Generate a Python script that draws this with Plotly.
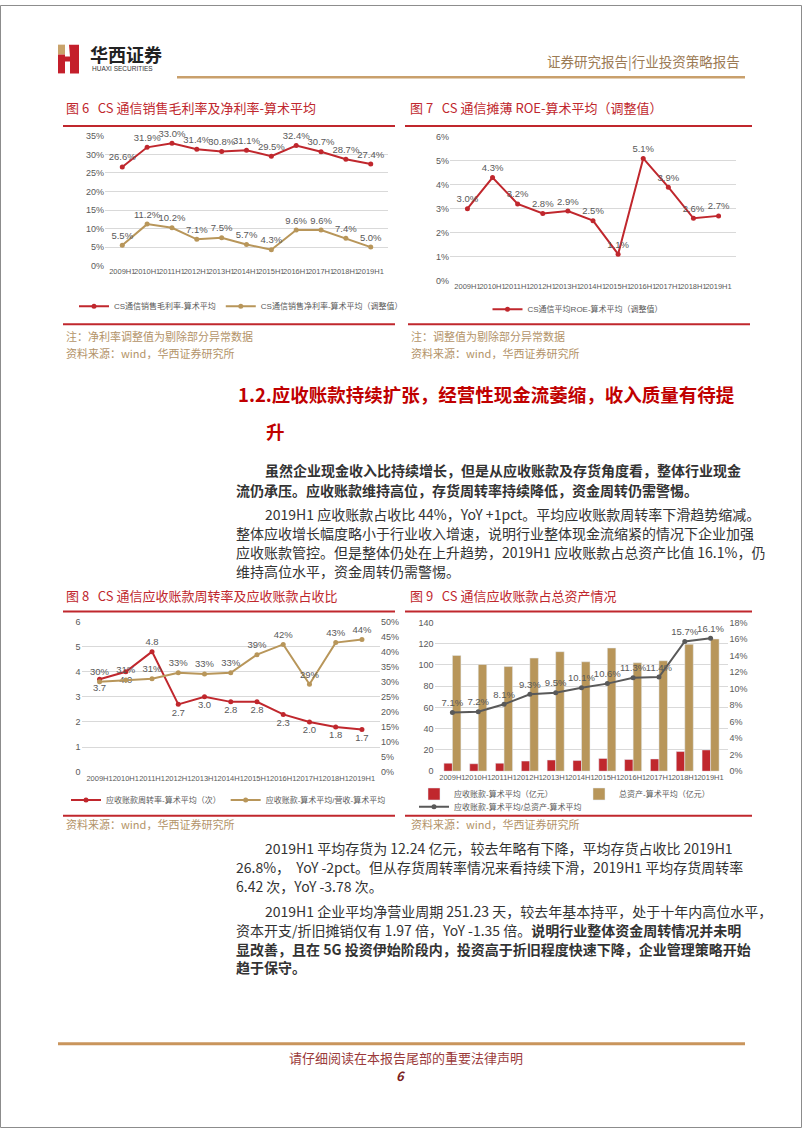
import plotly.graph_objects as go

W, H = 802, 1133


def X(px):
    return px / W


def Y(py):
    return 1 - py / H


# ---------------- data ----------------
periods = ["2009H1", "2010H1", "2011H1", "2012H1", "2013H1", "2014H1",
           "2015H1", "2016H1", "2017H1", "2018H1", "2019H1"]

gross_margin = [26.6, 31.9, 33.0, 31.4, 30.8, 31.1, 29.5, 32.4, 30.7, 28.7, 27.4]
net_margin = [5.5, 11.2, 10.2, 7.1, 7.5, 5.7, 4.3, 9.6, 9.6, 7.4, 5.0]

roe = [3.0, 4.3, 3.2, 2.8, 2.9, 2.5, 1.1, 5.1, 3.9, 2.6, 2.7]

ar_turnover = [3.7, 4.0, 4.8, 2.7, 3.0, 2.8, 2.8, 2.3, 2.0, 1.8, 1.7]
ar_to_revenue = [30, 30.6, 31, 33, 32.6, 33, 39, 42.4, 29.2, 43, 44]

ar_avg = [7.5, 7.0, 7.5, 9.5, 10.5, 10.0, 12.0, 11.0, 11.5, 18.5, 20.0]
assets_avg = [109, 100.5, 98.5, 106.5, 112.5, 103, 116, 102, 104, 119.5, 124.5]
ar_to_assets = [7.1, 7.2, 8.1, 9.3, 9.5, 10.1, 10.6, 11.3, 11.4, 15.7, 16.1]

RED = "#C0272D"
GOLD = "#B8965A"
GRAY_LINE = "#595959"
TXT = "#595959"
GRID = "#D9D9D9"
CJK = "Liberation Sans, Noto Sans CJK SC, sans-serif"
BODY = "Noto Sans CJK SC, sans-serif"

fig = go.Figure()

lab_font = dict(family=CJK, size=9.5, color=TXT)


def line_trace(y, name, color, labels, pos, xa, ya, leg):
    return go.Scatter(
        x=periods, y=y, mode="lines+markers+text", name=name,
        line=dict(color=color, width=2), marker=dict(size=5, color=color),
        text=labels, textposition=pos, textfont=lab_font, cliponaxis=False,
        xaxis=xa, yaxis=ya, legend=leg)


# ---- Figure 6 ----
fig.add_trace(line_trace(gross_margin, "CS通信销售毛利率-算术平均", RED,
                         [f"{v:.1f}%" for v in gross_margin], "top center",
                         "x", "y", "legend"))
fig.add_trace(line_trace(net_margin, "CS通信销售净利率-算术平均（调整值）", GOLD,
                         [f"{v:.1f}%" for v in net_margin], "top center",
                         "x", "y", "legend"))

# ---- Figure 7 ----
fig.add_trace(line_trace(roe, "CS通信平均ROE-算术平均（调整值）", RED,
                         [f"{v:.1f}%" for v in roe], "top center",
                         "x2", "y2", "legend2"))

# ---- Figure 8 ----
turn_pos = ["bottom center"] * len(ar_turnover)
turn_pos[2] = "top center"
fig.add_trace(line_trace(ar_turnover, "应收账款周转率-算术平均（次）", RED,
                         [f"{v:.1f}" for v in ar_turnover], turn_pos,
                         "x3", "y3", "legend3"))
fig.add_trace(line_trace(ar_to_revenue, "应收账款-算术平均/营收-算术平均", GOLD,
                         [f"{round(v)}%" for v in ar_to_revenue], "top center",
                         "x3", "y4", "legend3"))

# ---- Figure 9 ----
fig.add_trace(go.Bar(
    x=periods, y=ar_avg, name="应收账款-算术平均（亿元）",
    marker=dict(color=RED), xaxis="x4", yaxis="y5", legend="legend4"))
fig.add_trace(go.Bar(
    x=periods, y=assets_avg, name="总资产-算术平均（亿元）",
    marker=dict(color=GOLD), xaxis="x4", yaxis="y5", legend="legend4"))
fig.add_trace(line_trace(ar_to_assets, "应收账款-算术平均/总资产-算术平均", GRAY_LINE,
                         [f"{v:.1f}%" for v in ar_to_assets], "top center",
                         "x4", "y6", "legend5"))

tickf = dict(family=CJK, size=9, color=TXT)
xtickf = dict(family=CJK, size=7.5, color=TXT)


def xax(l, r, anchor):
    return dict(domain=[X(l), X(r)], anchor=anchor, type="category",
                tickmode="array", tickvals=periods, tickangle=0,
                tickfont=xtickf, showgrid=False, showline=False,
                ticks="", zeroline=False, fixedrange=True)


def yax(bottom, top, rng, dtick, suffix="", grid=True, **kw):
    d = dict(domain=[Y(bottom), Y(top)], range=rng, dtick=dtick,
             ticksuffix=suffix, tickfont=tickf, showgrid=grid,
             gridcolor=GRID, gridwidth=1, zeroline=False, showline=False,
             ticks="", fixedrange=True)
    d.update(kw)
    return d


leg_font = dict(family=CJK, size=8, color=TXT)

layout = dict(
    width=W, height=H,
    margin=dict(l=0, r=0, t=0, b=0),
    paper_bgcolor="white", plot_bgcolor="white",
    barmode="group", bargap=0.34, bargroupgap=0.0,
    xaxis=xax(105, 388, "y"),
    yaxis=yax(263, 132, [0, 35], 5, "%", anchor="x"),
    xaxis2=xax(450, 736, "y2"),
    yaxis2=yax(278, 133, [0, 6], 1, "%", anchor="x2"),
    xaxis3=xax(81.5, 380, "y3"),
    yaxis3=yax(774, 622, [0, 6], 1, "", anchor="x3"),
    yaxis4=yax(774, 622, [0, 50], 5, "%", grid=False, anchor="x3",
               overlaying="y3", side="right"),
    xaxis4=xax(434.6, 728.4, "y5"),
    yaxis5=yax(773, 623, [0, 140], 20, "", anchor="x4"),
    yaxis6=yax(773, 623, [0, 18], 2, "%", grid=False, anchor="x4",
               overlaying="y5", side="right"),
    legend=dict(orientation="h", x=X(74), y=Y(304), xanchor="left",
                yanchor="middle", font=leg_font, itemwidth=30,
                bgcolor="rgba(0,0,0,0)"),
    legend2=dict(orientation="h", x=X(578), y=Y(307), xanchor="center",
                 yanchor="middle", font=leg_font, itemwidth=30,
                 bgcolor="rgba(0,0,0,0)"),
    legend3=dict(orientation="h", x=X(66), y=Y(802), xanchor="left",
                 yanchor="middle", font=leg_font, itemwidth=30,
                 bgcolor="rgba(0,0,0,0)"),
    legend4=dict(orientation="h", x=X(414), y=Y(796), xanchor="left",
                 yanchor="middle", font=leg_font, itemwidth=30,
                 entrywidth=120, entrywidthmode="pixels",
                 bgcolor="rgba(0,0,0,0)"),
    legend5=dict(orientation="h", x=X(414), y=Y(809), xanchor="left",
                 yanchor="middle", font=leg_font, itemwidth=30,
                 bgcolor="rgba(0,0,0,0)"),
    showlegend=True,
)
fig.update_layout(**layout)

# ---------------- shapes ----------------
shapes = []


def hline(x0, x1, y, color, width):
    shapes.append(dict(type="line", xref="paper", yref="paper",
                       x0=X(x0), x1=X(x1), y0=Y(y), y1=Y(y),
                       line=dict(color=color, width=width)))


def rect(x0, y0, x1, y1, color):
    shapes.append(dict(type="rect", xref="paper", yref="paper",
                       x0=X(x0), x1=X(x1), y0=Y(y0), y1=Y(y1),
                       fillcolor=color, line=dict(width=0)))


def poly(pts, color):
    path = "M " + " L ".join(f"{X(a):.5f},{Y(b):.5f}" for a, b in pts) + " Z"
    shapes.append(dict(type="path", xref="paper", yref="paper", path=path,
                       fillcolor=color, line=dict(width=0)))


# page border
shapes.append(dict(type="rect", xref="paper", yref="paper",
                   x0=X(0.5), x1=X(801.5), y0=Y(0.5), y1=Y(1132.5),
                   line=dict(color="#8C8C8C", width=1)))

# logo
rect(58, 40, 65, 50, "#C9A36B")
rect(58, 50, 65, 69, "#C41F2B")
poly([(69, 40), (79, 40), (79, 69), (70, 69), (70, 57), (65, 57), (65, 52), (70, 52)], "#C41F2B")

# header / footer gold lines
hline(177, 745, 73, "#C9A06C", 2.5)
hline(58, 745, 1048, "#C9955C", 3)

# chart title underlines and bottom rules
hline(63, 395, 122, RED, 2)
hline(405, 752, 122, RED, 2)
hline(63, 395, 322, RED, 2)
hline(408, 750, 322, RED, 2)
hline(63, 395, 612, RED, 2)
hline(405, 752, 612, RED, 2)
hline(63, 395, 818, RED, 2)
hline(405, 752, 818, RED, 2)

fig.update_layout(shapes=shapes)

# ---------------- annotations ----------------
ann = []


def txt(x, y, s, size, color, anchor="left", family=BODY, **kw):
    ann.append(dict(xref="paper", yref="paper", x=X(x), y=Y(y), text=s,
                    showarrow=False, xanchor=anchor, yanchor="middle",
                    font=dict(family=family, size=size, color=color), **kw))


txt(88, 49, "<b>华西证券</b>", 18, "#222222")
txt(90, 64, "HUAXI SECURITIES", 6.5, "#333333", family="Liberation Sans")
txt(742, 57, "证券研究报告|行业投资策略报告", 13.5, "#9C7B55", anchor="right")

TITLE_RED = "#C0272D"
txt(64, 103, "图 6   CS 通信销售毛利率及净利率-算术平均", 13, TITLE_RED)
txt(408, 103, "图 7   CS 通信摊薄 ROE-算术平均（调整值）", 13, TITLE_RED)
txt(64, 596, "图 8   CS 通信应收账款周转率及应收账款占收比", 13, TITLE_RED)
txt(408, 596, "图 9   CS 通信应收账款占总资产情况", 13, TITLE_RED)

NOTE = "#B39368"
txt(64, 334, "注：净利率调整值为剔除部分异常数据", 11, NOTE)
txt(64, 351, "资料来源：wind，华西证券研究所", 11, NOTE)
txt(409, 334, "注：调整值为剔除部分异常数据", 11, NOTE)
txt(409, 351, "资料来源：wind，华西证券研究所", 11, NOTE)
txt(64, 826, "资料来源：wind，华西证券研究所", 11, NOTE)
txt(409, 826, "资料来源：wind，华西证券研究所", 11, NOTE)

HEAD = "#C00000"
txt(236, 392, "<b>1.2.应收账款持续扩张，经营性现金流萎缩，收入质量有待提</b>", 18.5, HEAD)
txt(264, 430, "<b>升</b>", 18.5, HEAD)

BT = "#333333"
bs = 14
body = [
    (263, 469, "<b>虽然企业现金收入比持续增长，但是从应收账款及存货角度看，整体行业现金</b>"),
    (234, 489, "<b>流仍承压。应收账款维持高位，存货周转率持续降低，资金周转仍需警惕。</b>"),
    (263, 514, "2019H1 应收账款占收比 44%，YoY +1pct。平均应收账款周转率下滑趋势缩减。"),
    (234, 533, "整体应收增长幅度略小于行业收入增速，说明行业整体现金流缩紧的情况下企业加强"),
    (234, 552, "应收账款管控。但是整体仍处在上升趋势，2019H1 应收账款占总资产比值 16.1%，仍"),
    (234, 571, "维持高位水平，资金周转仍需警惕。"),
    (263, 851, "2019H1 平均存货为 12.24 亿元，较去年略有下降，平均存货占收比 2019H1"),
    (234, 870, "26.8%，  YoY -2pct。但从存货周转率情况来看持续下滑，2019H1 平均存货周转率"),
    (234, 889, "6.42 次，YoY -3.78 次。"),
    (263, 914, "2019H1 企业平均净营业周期 251.23 天，较去年基本持平，处于十年内高位水平，"),
    (234, 933, "资本开支/折旧摊销仅有 1.97 倍，YoY -1.35 倍。<b>说明行业整体资金周转情况并未明</b>"),
    (234, 952, "<b>显改善，且在 5G 投资伊始阶段内，投资高于折旧程度快速下降，企业管理策略开始</b>"),
    (234, 971, "<b>趋于保守。</b>"),
]
for x, y, s in body:
    txt(x, y, s, bs, BT)

txt(406, 1062, "请仔细阅读在本报告尾部的重要法律声明", 13, "#9B3A3A", anchor="center")
txt(401, 1080, "<b><i>6</i></b>", 13, "#7B1E1E", anchor="center")

fig.update_layout(annotations=ann)

fig.write_html("out.html")
